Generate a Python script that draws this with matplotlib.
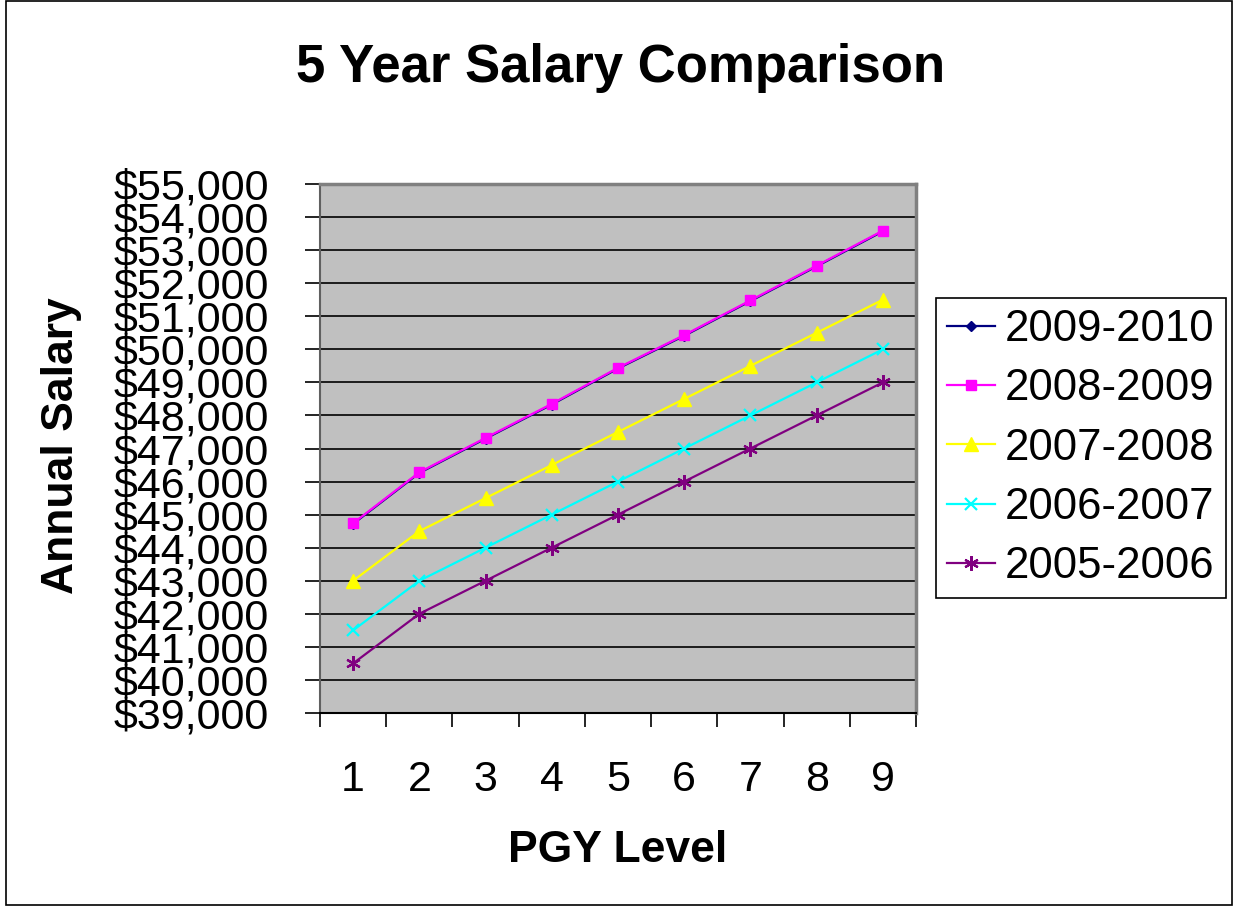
import matplotlib
matplotlib.use("Agg")
import matplotlib.pyplot as plt
from matplotlib.patches import Rectangle
from matplotlib.ticker import FuncFormatter, FixedLocator

plt.rcParams['font.family'] = ['Liberation Sans', 'DejaVu Sans']

levels = [1, 2, 3, 4, 5, 6, 7, 8, 9]
tick_labels = ["1", "2", "3", "4", "5", "6", "7", "8", "9"]
s2009_2010 = [44720, 46260, 47300, 48330, 49420, 50410, 51460, 52510, 53570]
s2008_2009 = [44740, 46280, 47320, 48350, 49440, 50430, 51480, 52530, 53590]
s2007_2008 = [43000, 44500, 45500, 46500, 47500, 48500, 49500, 50500, 51500]
s2006_2007 = [41500, 43000, 44000, 45000, 46000, 47000, 48000, 49000, 50000]
s2005_2006 = [40500, 42000, 43000, 44000, 45000, 46000, 47000, 48000, 49000]
series_names = ["2009-2010", "2008-2009", "2007-2008", "2006-2007", "2005-2006"]

W, H = 1235, 907
fig = plt.figure(figsize=(W / 100, H / 100), dpi=100)
fig.patch.set_facecolor("white")
fig.patches.append(Rectangle((6 / W, 2 / H), 1226 / W, 904 / H, transform=fig.transFigure,
                             fill=False, edgecolor="black", linewidth=1.2))

ax = fig.add_axes([320 / W, (H - 713) / H, (916 - 320) / W, (713 - 184) / H])
ax.set_facecolor("#C0C0C0")

styles = [
    dict(color="#000080", marker="D", markersize=5.5),
    dict(color="#FF00FF", marker="s", markersize=7),
    dict(color="#FFFF00", marker="^", markersize=9.5),
    dict(color="#00FFFF", marker="x", markersize=8.5, markeredgewidth=1.6),
    dict(color="#800080", marker=(6, 2, 0), markersize=10.5, markeredgewidth=1.6),
]
data = [s2009_2010, s2008_2009, s2007_2008, s2006_2007, s2005_2006]
for vals, name, st in zip(data, series_names, styles):
    ax.plot(levels, vals, label=name, linewidth=1.6, zorder=3, **st)

ax.set_xlim(0.5, 9.5)
ax.set_ylim(39000, 55000)
ax.set_yticks(range(39000, 55001, 1000))
ax.yaxis.set_major_formatter(FuncFormatter(lambda v, p: "${:,.0f}".format(v)))
ax.yaxis.grid(True, color="black", linewidth=1.2)
ax.set_axisbelow(True)

ax.set_xticks(levels)
ax.set_xticklabels(tick_labels)
ax.xaxis.set_minor_locator(FixedLocator([0.5 + i for i in range(10)]))
ax.tick_params(axis="x", which="major", length=0, pad=34, labelsize=31)
ax.tick_params(axis="x", which="minor", length=10, width=1.2, color="black", direction="out")
ax.tick_params(axis="y", which="major", length=10.5, width=1.2, color="black", direction="out",
               labelsize=31, pad=26)

for side in ["top", "right"]:
    ax.spines[side].set_color("#808080")
    ax.spines[side].set_linewidth(2.5)
ax.spines["left"].set_color("#606060")
ax.spines["left"].set_linewidth(1.5)
ax.spines["bottom"].set_color("black")
ax.spines["bottom"].set_linewidth(1.5)

fig.text(621 / W, 1 - 68 / H, "5 Year Salary Comparison", ha="center", va="center",
         fontsize=38, fontweight="bold")
fig.text(618 / W, 1 - 850 / H, "PGY Level", ha="center", va="center",
         fontsize=32, fontweight="bold")
fig.text(62 / W, 1 - 446 / H, "Annual Salary", ha="center", va="center", rotation=90,
         fontsize=32, fontweight="bold")

leg = fig.legend(loc="upper left", bbox_to_anchor=(936 / W, 1 - 298 / H),
                 fontsize=31.5, frameon=True, fancybox=False, shadow=False,
                 edgecolor="black", framealpha=1, handlelength=1.1, handletextpad=0.23,
                 labelspacing=0.42, borderpad=0.25, borderaxespad=0)
leg.get_frame().set_linewidth(1.2)

fig.savefig("out.png", dpi=100, facecolor="white")
